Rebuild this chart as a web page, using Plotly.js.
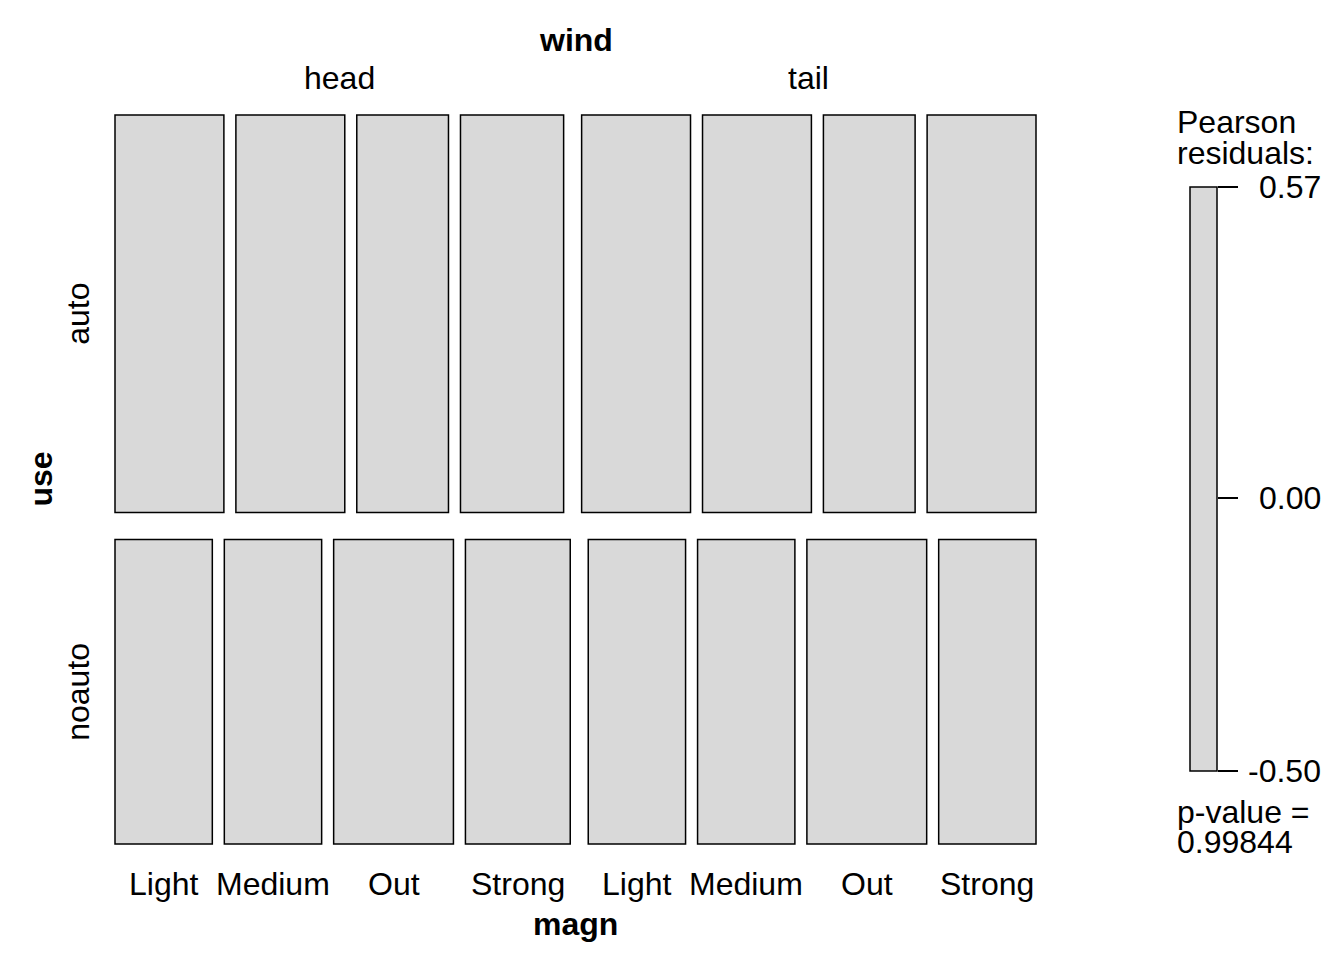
<!DOCTYPE html>
<html><head><meta charset="utf-8">
<script src="https://cdn.plot.ly/plotly-3.0.1.min.js"></script>
<style>body{margin:0;background:#fff}#chart{width:1344px;height:960px}</style>
</head><body><div id="chart"></div>
<script>
// ---- data (shuttle: use x wind x magn counts) ----
const magnLevels = ['Light', 'Medium', 'Out', 'Strong'];
const windLevels = ['head', 'tail'];
const useLevels = ['auto', 'noauto'];
const autoHead = [19, 19, 16, 18];
const autoTail = [19, 19, 16, 19];
const noautoHead = [13, 13, 16, 14];
const noautoTail = [13, 13, 16, 13];
const residRange = [-0.50, 0.57];
const pValue = '0.99844';

// ---- layout constants (pixel units) ----
const FONT = 'Liberation Sans, Arial, Helvetica, sans-serif';
const FS = 32;
const X0 = 115, X1 = 1036, Y0 = 115, Y1 = 844, PAD = 5;
const W = X1 - X0, H = Y1 - Y0;
const gapMagn = 12, gapWind = 18, gapUse = 27;
const FILL = '#d9d9d9';

const counts = [[autoHead, autoTail], [noautoHead, noautoTail]];
const rowTot = counts.map(r => r.flat().reduce((a, b) => a + b, 0));
const N = rowTot.reduce((a, b) => a + b, 0);
const availH = H - gapUse * (useLevels.length - 1);
const availW = W - gapWind * (windLevels.length - 1) - gapMagn * (windLevels.length * (magnLevels.length - 1));

const bx = [], bw = [], bb = [], bh = [];
const rowCenters = [], windCenters = [], magnCenters = [];
let yCur = 0;
counts.forEach((row, i) => {
  const h = rowTot[i] / N * availH;
  rowCenters.push(yCur + h / 2);
  let xCur = 0;
  row.forEach((cells, j) => {
    const wStart = xCur;
    cells.forEach((c, k) => {
      const w = c / rowTot[i] * availW;
      bx.push(xCur + w / 2); bw.push(w); bb.push(yCur); bh.push(h);
      if (i === useLevels.length - 1) magnCenters.push(xCur + w / 2);
      xCur += w;
      if (k < cells.length - 1) xCur += gapMagn;
    });
    if (i === 0) windCenters.push((wStart + xCur) / 2);
    xCur += gapWind;
  });
  yCur += h + gapUse;
});

const traces = [{
  type: 'bar', x: bx, width: bw, base: bb, y: bh,
  marker: {color: FILL, line: {color: '#000', width: 1.5}},
  xaxis: 'x', yaxis: 'y', hoverinfo: 'skip', showlegend: false
}, {
  type: 'bar', x: [13.5], width: [27], base: [residRange[0]], y: [residRange[1] - residRange[0]],
  marker: {color: FILL, line: {color: '#000', width: 1.5}},
  xaxis: 'x2', yaxis: 'y2', hoverinfo: 'skip', showlegend: false
}];

const px = v => v / 1344, py = v => 1 - v / 960;
const ann = [];
const txt = (text, x, y, o) => ann.push(Object.assign({text, x, y, xref: 'paper', yref: 'paper',
  showarrow: false, xanchor: 'center', yanchor: 'middle', font: {family: FONT, size: FS, color: '#000'}}, o || {}));

txt('<b>wind</b>', px(X0 + W / 2), py(40));
windLevels.forEach((w, j) => txt(w, windCenters[j], py(78), {xref: 'x'}));
txt('<b>magn</b>', px(X0 + W / 2), py(924));
magnCenters.forEach((c, k) => txt(magnLevels[k % magnLevels.length], c, py(884), {xref: 'x'}));
txt('<b>use</b>', px(40), py(Y0 + H / 2), {textangle: -90});
useLevels.forEach((u, i) => txt(u, px(78), py(Y0 + rowCenters[i]), {textangle: -90}));
txt('Pearson', px(1175), py(122), {xanchor: 'left'});
txt('residuals:', px(1175), py(153), {xanchor: 'left'});
[residRange[1], 0, residRange[0]].forEach(v => txt(v.toFixed(2), px(1323), v, {yref: 'y2', xanchor: 'right'}));
txt('p-value =', px(1175), py(812), {xanchor: 'left'});
txt(pValue, px(1175), py(842), {xanchor: 'left'});

const resPx = (771 - 187) / (residRange[1] - residRange[0]);
const rp = 3 / resPx;
const layout = {
  width: 1344, height: 960, margin: {l: 0, r: 0, t: 0, b: 0},
  paper_bgcolor: '#fff', plot_bgcolor: 'rgba(0,0,0,0)', barmode: 'overlay', showlegend: false,
  xaxis: {domain: [px(X0 - PAD), px(X1 + PAD)], range: [-PAD, W + PAD], visible: false, fixedrange: true},
  yaxis: {domain: [py(Y1 + PAD), py(Y0 - PAD)], range: [H + PAD, -PAD], visible: false, fixedrange: true},
  xaxis2: {domain: [px(1187), px(1220)], range: [-3, 30], visible: false, anchor: 'y2'},
  yaxis2: {domain: [py(771 + 3), py(187 - 3)], range: [residRange[0] - rp, residRange[1] + rp],
    anchor: 'free', position: px(1217), side: 'right', showline: false, showgrid: false, zeroline: false,
    ticks: 'outside', ticklen: 20, tickwidth: 1.5, tickcolor: '#000',
    tickvals: [residRange[0], 0, residRange[1]], showticklabels: false},
  annotations: ann
};
Plotly.newPlot('chart', traces, layout, {staticPlot: true});
</script></body></html>
